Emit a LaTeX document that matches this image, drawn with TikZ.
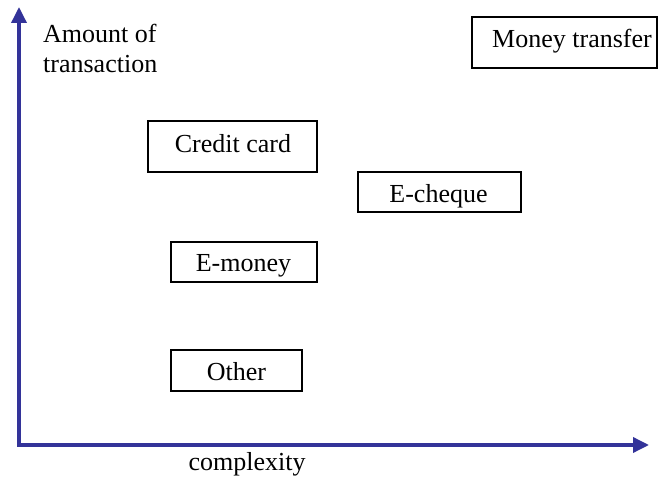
\documentclass[tikz,border=0pt]{standalone}
\usepackage{fontspec}
\setmainfont{Liberation Serif}
\usetikzlibrary{arrows.meta}
\definecolor{axisblue}{RGB}{51,51,153}
\begin{document}
\begin{tikzpicture}[x=1pt,y=-1pt,
  axis/.style={draw=axisblue,line width=3.5pt,-{Triangle[length=16pt,width=15pt]}},
  box/.style={draw=black,line width=1.4pt,rectangle,inner sep=0pt},
  lbl/.style={anchor=base,inner sep=0pt,font=\fontsize{26}{30}\selectfont},
  lbll/.style={anchor=base west,inner sep=0pt,font=\fontsize{26}{30}\selectfont}]
\useasboundingbox (0,0) rectangle (665,481);
\coordinate (o) at (19,445);
\coordinate (ytop) at (19,7);
\coordinate (xend) at (649,445);
\draw[axis] ([yshift=1.75pt]o) -- (ytop);
\draw[axis] ([xshift=-1.75pt]o) -- (xend);
\node[lbll] (ya1) at (43,43) {Amount of};
\node[lbll] (ya2) at (43,73) {transaction};
\node[lbl] (xa) at (247,471) {complexity};
% boxes
\node[box,minimum width=185pt,minimum height=51pt] (mt) at (564.5,42.5) {};
\node[lbl] (mtt) at (572,48) {Money transfer};
\node[box,minimum width=169pt,minimum height=51pt] (cc) at (232.5,146.5) {};
\node[lbl] (cct) at (233,153) {Credit card};
\node[box,minimum width=163pt,minimum height=40pt] (ec) at (439.5,192) {};
\node[lbl] (ect) at (438.5,203) {E-cheque};
\node[box,minimum width=146pt,minimum height=40pt] (em) at (244,262) {};
\node[lbl] (emt) at (243.5,272) {E-money};
\node[box,minimum width=131pt,minimum height=41pt] (ot) at (236.5,370.5) {};
\node[lbl] (ott) at (236.5,381) {Other};
\end{tikzpicture}
\end{document}
